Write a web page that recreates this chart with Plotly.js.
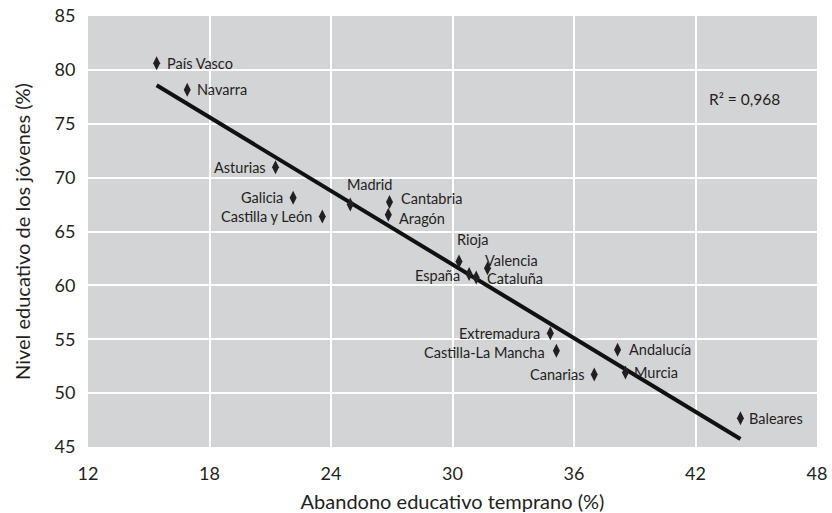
<!DOCTYPE html>
<html>
<head>
<meta charset="utf-8">
<script src="https://cdn.plot.ly/plotly-3.0.1.min.js"></script>
<style>html,body{margin:0;padding:0;background:#fff;}#chart{width:832px;height:513px;}</style>
</head>
<body>
<div id="chart"></div>
<script>
// Data
const regions = ["País Vasco","Navarra","Asturias","Galicia","Castilla y León","Madrid","Cantabria","Aragón","Rioja","Valencia","España","Cataluña","Extremadura","Castilla-La Mancha","Andalucía","Canarias","Murcia","Baleares"];
const abandono = [15.39,16.90,21.26,22.13,23.57,24.95,26.89,26.83,30.32,31.73,30.82,31.17,34.83,35.13,38.15,37.00,38.54,44.22];
const nivel    = [80.62,78.15,70.97,68.13,66.39,67.51,67.74,66.55,62.22,61.59,61.05,60.73,55.56,53.93,54.02,51.73,51.91,47.67];
const xTicks = [12,18,24,30,36,42,48];
const yTicks = [45,50,55,60,65,70,75,80,85];
const r2Text = "R² = 0,968";

// Label placement (styling): anchor side and pixel offsets
const labelAnchor = ["left","left","right","right","right","left","left","left","left","left","right","left","right","right","left","right","left","left"];
const labelDX = [9,9,-9,-9,-9,-4,10,10,-3,-4,-8,10,-9,-10,10,-9,8,8];
const labelDY = [0,0,0,0,0,20,3,-4,22,8,-1,-1,0,-2,0,0,0,0];

// Least-squares trend line
const n = abandono.length;
const mx = abandono.reduce((a,b)=>a+b,0)/n;
const my = nivel.reduce((a,b)=>a+b,0)/n;
let sxy=0, sxx=0;
for(let i=0;i<n;i++){sxy+=(abandono[i]-mx)*(nivel[i]-my);sxx+=(abandono[i]-mx)**2;}
const slope = sxy/sxx, icpt = my - slope*mx;
const xMin = Math.min(...abandono), xMax = Math.max(...abandono);

const ink = "#231f20";
const font = "Lato, 'Liberation Sans', sans-serif";

const traces = [
  {
    x:[xMin,xMax], y:[icpt+slope*xMin, icpt+slope*xMax],
    mode:"lines", line:{color:"#111111", width:4}, hoverinfo:"skip"
  },
  {
    x:abandono, y:nivel, mode:"markers",
    marker:{symbol:"diamond-tall", size:10, color:ink}
  }
];

const annotations = regions.map((r,i)=>({
  x:abandono[i], y:nivel[i], xref:"x", yref:"y", text:r, showarrow:false,
  xanchor:labelAnchor[i], yanchor:"middle", xshift:labelDX[i], yshift:labelDY[i],
  borderpad:0,
  font:{family:font, size:14.5, color:ink}
}));
annotations.push({
  x:44.4, y:77.3, xref:"x", yref:"y", text:r2Text, showarrow:false,
  font:{family:font, size:15.5, color:ink}
});

const layout = {
  width:832, height:513,
  margin:{l:88, r:15, t:16, b:66},
  paper_bgcolor:"#ffffff", plot_bgcolor:"#d3d4d6",
  showlegend:false,
  font:{family:font, color:ink},
  xaxis:{
    range:[12,48], tickvals:xTicks, ticktext:xTicks.map(String),
    showgrid:true, gridcolor:"#ffffff", gridwidth:2, zeroline:false, showline:false,
    ticks:"outside", ticklen:10, tickcolor:"rgba(0,0,0,0)",
    tickfont:{family:font, size:18, color:ink},
    title:{text:"Abandono educativo temprano (%)", font:{family:font, size:20, color:ink}, standoff:14}
  },
  yaxis:{
    range:[45,85], tickvals:yTicks, ticktext:yTicks.map(String),
    showgrid:true, gridcolor:"#ffffff", gridwidth:2, zeroline:false, showline:false,
    ticks:"outside", ticklen:8, tickcolor:"rgba(0,0,0,0)",
    tickfont:{family:font, size:18, color:ink},
    title:{text:"Nivel educativo de los jóvenes (%)", font:{family:font, size:20, color:ink}, standoff:18}
  },
  annotations:annotations
};

Plotly.newPlot("chart", traces, layout, {displayModeBar:false, staticPlot:true});
</script>
</body>
</html>
